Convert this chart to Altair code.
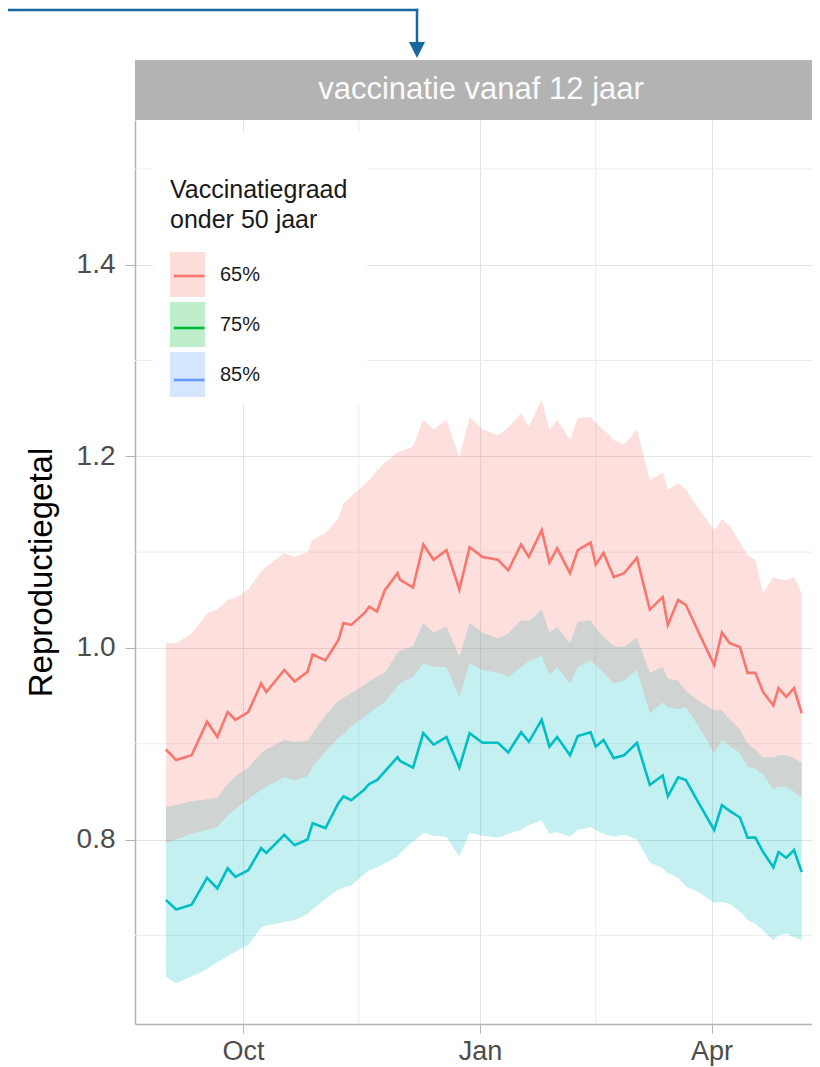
import altair as alt
import pandas as pd

# ---------------- data ----------------
dates = [
    "2021-09-01", "2021-09-05", "2021-09-11", "2021-09-17", "2021-09-21", "2021-09-25", "2021-09-28",
    "2021-10-03", "2021-10-08", "2021-10-10", "2021-10-17", "2021-10-21", "2021-10-26", "2021-10-28",
    "2021-11-02", "2021-11-07", "2021-11-09", "2021-11-12", "2021-11-17", "2021-11-19", "2021-11-22",
    "2021-11-25", "2021-11-30",
    "2021-12-01", "2021-12-06", "2021-12-10", "2021-12-14", "2021-12-19", "2021-12-24", "2021-12-28",
    "2022-01-02", "2022-01-08", "2022-01-12", "2022-01-17", "2022-01-20", "2022-01-25", "2022-01-28",
    "2022-01-31",
    "2022-02-05", "2022-02-08", "2022-02-13", "2022-02-15", "2022-02-18", "2022-02-22", "2022-02-26",
    "2022-03-03", "2022-03-08", "2022-03-13", "2022-03-15", "2022-03-19", "2022-03-22", "2022-03-27",
    "2022-04-02", "2022-04-05", "2022-04-08", "2022-04-12", "2022-04-15", "2022-04-18", "2022-04-21",
    "2022-04-25", "2022-04-27", "2022-04-30",
    "2022-05-03", "2022-05-06",
]

r65_mid = [
    0.894, 0.883, 0.888, 0.923, 0.907, 0.933, 0.925,
    0.933, 0.963, 0.954, 0.977, 0.965, 0.975, 0.993,
    0.987, 1.008, 1.026, 1.024, 1.036, 1.043, 1.038, 1.060, 1.078,
    1.071, 1.063, 1.108, 1.092, 1.102, 1.061, 1.105,
    1.095, 1.092, 1.081, 1.108, 1.095, 1.123, 1.089, 1.104,
    1.078, 1.102, 1.110, 1.087, 1.099, 1.074, 1.078,
    1.094, 1.040, 1.053, 1.024, 1.050, 1.045, 1.016,
    0.982, 1.016, 1.005, 1.001, 0.974, 0.974, 0.954, 0.940, 0.958, 0.949,
    0.958, 0.932,
]
r65_hi = [
    1.005, 1.005, 1.015, 1.036, 1.040, 1.050, 1.052,
    1.061, 1.080, 1.085, 1.099, 1.095, 1.100, 1.113,
    1.120, 1.135, 1.151, 1.158, 1.170, 1.175, 1.185, 1.193, 1.204,
    1.205, 1.210, 1.238, 1.228, 1.238, 1.199, 1.241,
    1.228, 1.222, 1.230, 1.245, 1.231, 1.259, 1.228, 1.238,
    1.217, 1.240, 1.241, 1.235, 1.228, 1.217, 1.212,
    1.228, 1.175, 1.183, 1.165, 1.172, 1.165, 1.145,
    1.123, 1.134, 1.128, 1.110, 1.097, 1.092, 1.057, 1.074, 1.072, 1.071,
    1.074, 1.057,
]
r65_lo = [
    0.796, 0.800, 0.806, 0.810, 0.813, 0.825, 0.832,
    0.842, 0.852, 0.855, 0.865, 0.862, 0.866, 0.876,
    0.892, 0.906, 0.910, 0.918, 0.928, 0.932, 0.938, 0.943, 0.960,
    0.963, 0.970, 0.984, 0.980, 0.980, 0.949, 0.984,
    0.977, 0.974, 0.970, 0.980, 0.986, 0.992, 0.972, 0.980,
    0.963, 0.980, 0.987, 0.982, 0.974, 0.963, 0.966,
    0.977, 0.932, 0.943, 0.938, 0.936, 0.938, 0.918,
    0.890, 0.904, 0.898, 0.890, 0.876, 0.874, 0.868, 0.852, 0.855, 0.855,
    0.850, 0.844,
]
r85_mid = [
    0.737, 0.727, 0.732, 0.760, 0.749, 0.770, 0.761,
    0.768, 0.791, 0.786, 0.805, 0.794, 0.800, 0.817,
    0.812, 0.838, 0.845, 0.841, 0.852, 0.858, 0.862, 0.871, 0.886,
    0.882, 0.875, 0.911, 0.899, 0.907, 0.875, 0.911,
    0.901, 0.901, 0.891, 0.912, 0.902, 0.925, 0.897, 0.907,
    0.888, 0.908, 0.912, 0.897, 0.904, 0.885, 0.888,
    0.901, 0.857, 0.867, 0.845, 0.865, 0.862, 0.838,
    0.810, 0.836, 0.830, 0.823, 0.802, 0.802, 0.787, 0.771, 0.787, 0.781,
    0.789, 0.766,
]
r85_hi = [
    0.834, 0.836, 0.840, 0.842, 0.844, 0.858, 0.866,
    0.875, 0.890, 0.894, 0.904, 0.902, 0.903, 0.911,
    0.930, 0.945, 0.948, 0.953, 0.961, 0.965, 0.970, 0.974, 0.995,
    0.997, 1.002, 1.026, 1.016, 1.022, 0.991, 1.026,
    1.016, 1.010, 1.015, 1.029, 1.028, 1.040, 1.016, 1.022,
    1.005, 1.027, 1.029, 1.020, 1.012, 1.002, 1.001,
    1.011, 0.974, 0.980, 0.968, 0.966, 0.955, 0.945,
    0.935, 0.935, 0.925, 0.915, 0.900, 0.894, 0.886, 0.886, 0.888, 0.888,
    0.885, 0.880,
]
r85_lo = [
    0.657, 0.650, 0.657, 0.665, 0.672, 0.678, 0.683,
    0.690, 0.708, 0.710, 0.714, 0.716, 0.722, 0.727,
    0.738, 0.748, 0.750, 0.752, 0.764, 0.768, 0.771, 0.775, 0.782,
    0.786, 0.798, 0.807, 0.804, 0.803, 0.782, 0.807,
    0.804, 0.802, 0.806, 0.810, 0.815, 0.820, 0.806, 0.808,
    0.803, 0.810, 0.813, 0.810, 0.806, 0.803, 0.805,
    0.800, 0.776, 0.770, 0.765, 0.760, 0.751, 0.745,
    0.734, 0.735, 0.733, 0.725, 0.716, 0.712, 0.705, 0.695, 0.700, 0.702,
    0.698, 0.695,
]

series_names = ["65%", "85%"]
legend_categories = ["65%", "75%", "85%"]
y_major = [0.8, 1.0, 1.2, 1.4]
y_minor = [0.7, 0.9, 1.1, 1.3, 1.5]
x_major = ["2021-10-01", "2022-01-01", "2022-04-01"]
x_minor = ["2021-11-15", "2022-02-15"]
x_range = ["2021-08-20", "2022-05-10"]
y_range = [0.6075, 1.551]
header_text = "vaccinatie vanaf 12 jaar"
y_title = "Reproductiegetal"
legend_title = ["Vaccinatiegraad", " onder 50 jaar"]

# ---------------- styles ----------------
RED = "#F8766D"
TEAL = "#00BFC4"
LEGEND_COLORS = ["#F8766D", "#00BA38", "#619CFF"]
ARROW = "#16689F"
SANS = "Liberation Sans"
W, H = 677, 904


def dt(s):
    y, m, d = (int(p) for p in s.split("-"))
    return alt.DateTime(year=y, month=m, date=d, utc=True)


df = pd.concat(
    [
        pd.DataFrame({"datum": dates, "serie": series_names[0], "mid": r65_mid, "lo": r65_lo, "hi": r65_hi}),
        pd.DataFrame({"datum": dates, "serie": series_names[1], "mid": r85_mid, "lo": r85_lo, "hi": r85_hi}),
    ],
    ignore_index=True,
)

xscale = alt.Scale(type="utc", domain=[dt(x_range[0]), dt(x_range[1])])
yscale = alt.Scale(domain=y_range, zero=False, nice=False)

xaxis = alt.Axis(
    values=[dt(v) for v in x_major], labelExpr="utcFormat(datum.value, '%b')",
    labelFont=SANS, labelFontSize=27, labelColor="#4d4d4d", labelPadding=5,
    tickSize=9, tickColor="#b3b3b3", domainColor="#b3b3b3", domainWidth=1.5,
    grid=True, gridColor="#e3e3e3", gridWidth=1, title=None,
)
yaxis = alt.Axis(
    values=y_major, format=".1f",
    labelFont=SANS, labelFontSize=28, labelColor="#4d4d4d", labelPadding=10,
    tickSize=10, tickColor="#b3b3b3", domainColor="#b3b3b3", domainWidth=1.5,
    grid=True, gridColor="#e3e3e3", gridWidth=1,
    title=y_title, titleFont=SANS, titleFontSize=33, titleFontWeight="normal",
    titleColor="black", titleAngle=270, titleBaseline="bottom", titleAlign="center",
    titleX=-77, titleY=H / 2,
)

X = alt.X("datum:T", scale=xscale, axis=xaxis)

minor_y = alt.Chart(pd.DataFrame({"v": y_minor})).mark_rule(color="#ececec", strokeWidth=1).encode(
    y=alt.Y("v:Q", scale=yscale, axis=yaxis)
)
minor_x = alt.Chart(pd.DataFrame({"d": x_minor})).mark_rule(color="#ececec", strokeWidth=1).encode(
    x=alt.X("d:T", scale=xscale, axis=xaxis)
)

deco = pd.DataFrame({"label": [header_text]})
legend_box = alt.Chart(deco).mark_rect(fill="white").encode(
    x=alt.value(18), x2=alt.value(232), y=alt.value(12), y2=alt.value(285)
)

band_teal = alt.Chart(df).transform_filter(alt.datum.serie == series_names[1]).mark_area(
    color=TEAL, opacity=0.23
).encode(x=X, y=alt.Y("lo:Q", scale=yscale, axis=yaxis), y2="hi:Q")
band_red = alt.Chart(df).transform_filter(alt.datum.serie == series_names[0]).mark_area(
    color=RED, opacity=0.23
).encode(x=X, y=alt.Y("lo:Q", scale=yscale, axis=yaxis), y2="hi:Q")
line_teal = alt.Chart(df).transform_filter(alt.datum.serie == series_names[1]).mark_line(
    color=TEAL, strokeWidth=2.6
).encode(x=X, y=alt.Y("mid:Q", scale=yscale, axis=yaxis))
line_red = alt.Chart(df).transform_filter(alt.datum.serie == series_names[0]).mark_line(
    color=RED, strokeWidth=2.6
).encode(x=X, y=alt.Y("mid:Q", scale=yscale, axis=yaxis))

header_rect = alt.Chart(deco).mark_rect(fill="#b3b3b3").encode(
    x=alt.value(0), x2=alt.value(W), y=alt.value(-60), y2=alt.value(0)
)
header_lbl = alt.Chart(deco).mark_text(
    color="#fafafa", font=SANS, fontSize=31, align="center", baseline="middle"
).encode(x=alt.value(346), y=alt.value(-30), text="label:N")

arrow_h = alt.Chart(deco).mark_rule(color=ARROW, strokeWidth=2.5, strokeCap="square").encode(
    x=alt.value(-127), x2=alt.value(282), y=alt.value(-110)
)
arrow_v = alt.Chart(deco).mark_rule(color=ARROW, strokeWidth=2.5, strokeCap="square").encode(
    x=alt.value(282), y=alt.value(-110), y2=alt.value(-78)
)
arrow_head = alt.Chart(deco).mark_point(
    shape="M-1,-1H1L0,1Z", filled=True, size=256, color=ARROW, opacity=1
).encode(x=alt.value(282), y=alt.value(-70))

# legend: two overlaid legends (light squares + coloured line)
leg_df = pd.DataFrame({"graad": legend_categories, "graad_lijn": legend_categories})
common_leg = dict(
    orient="none", legendX=35, legendY=58, padding=0, offset=0,
    title=legend_title, titleFont=SANS, titleFontSize=25, titleFontWeight="normal",
    titleLineHeight=30, titlePadding=19, titleLimit=400, titleAnchor="start",
    labelFont=SANS, labelOffset=5, labelLimit=300,
    symbolSize=2025, rowPadding=5,
)
leg_fill = alt.Chart(leg_df).mark_square(size=0, strokeWidth=0).encode(
    fill=alt.Fill(
        "graad:N",
        scale=alt.Scale(domain=legend_categories, range=LEGEND_COLORS),
        legend=alt.Legend(
            titleColor="#1a1a1a", labelColor="#1a1a1a", labelFontSize=20,
            symbolType="M-1,-1H0.56V1H-1Z", symbolOpacity=0.25, symbolStrokeWidth=0,
            **common_leg,
        ),
    )
)
leg_line = alt.Chart(leg_df).mark_point(size=0, strokeWidth=2.6).encode(
    stroke=alt.Stroke(
        "graad_lijn:N",
        scale=alt.Scale(domain=legend_categories, range=LEGEND_COLORS),
        legend=alt.Legend(
            titleColor="transparent", labelColor="transparent", labelFontSize=1,
            symbolType="M-1,-0.76M0.56,0.76M-0.9,0H0.47", symbolOpacity=1, symbolStrokeWidth=2.6,
            symbolFillColor="transparent",
            **common_leg,
        ),
    )
)

chart = alt.layer(
    minor_y, minor_x, legend_box,
    band_teal, band_red, line_teal, line_red,
    header_rect, header_lbl, arrow_h, arrow_v, arrow_head,
    leg_fill, leg_line,
).resolve_scale(fill="independent", stroke="independent").properties(
    width=W, height=H,
    autosize=alt.AutoSizeParams(type="none"),
    padding={"left": 127, "top": 112, "right": 0, "bottom": 43},
    background="white",
).configure_view(stroke=None)

chart.save("out.html", embed_options={"renderer": "svg", "actions": False})
